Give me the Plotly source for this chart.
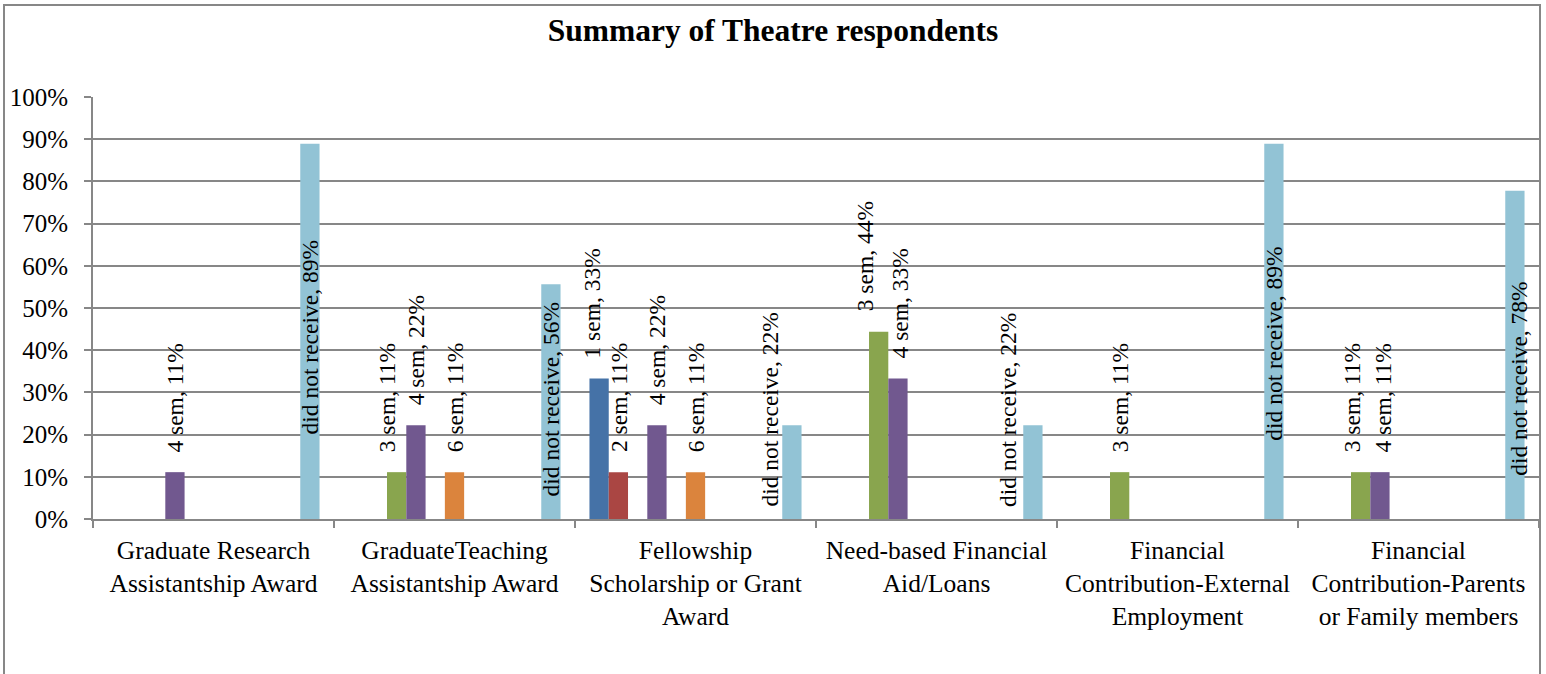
import plotly.graph_objects as go

# ---------------- data ----------------
categories = [
    "Graduate Research<br>Assistantship Award",
    "GraduateTeaching<br>Assistantship Award",
    "Fellowship<br>Scholarship or Grant<br>Award",
    "Need-based Financial<br>Aid/Loans",
    "Financial<br>Contribution-External<br>Employment",
    "Financial<br>Contribution-Parents<br>or Family members",
]
series_names = ["1 sem", "2 sem", "3 sem", "4 sem", "5 sem", "6 sem",
                "7 sem", "8 sem", "9 sem", "10 sem", "did not receive"]

sem1 = [None, None, 33.3, None, None, None]
sem2 = [None, None, 11.1, None, None, None]
sem3 = [None, 11.1, None, 44.4, 11.1, 11.1]
sem4 = [11.1, 22.2, 22.2, 33.3, None, 11.1]
sem5 = [None] * 6
sem6 = [None, 11.1, 11.1, None, None, None]
sem7 = [None] * 6
sem8 = [None] * 6
sem9 = [None] * 6
sem10 = [None] * 6
not_received = [88.9, 55.6, 22.2, 22.2, 88.9, 77.8]

series_values = [sem1, sem2, sem3, sem4, sem5, sem6, sem7, sem8, sem9, sem10, not_received]
y_ticks = [0, 10, 20, 30, 40, 50, 60, 70, 80, 90, 100]

# ---------------- styles ----------------
colors = ["#4572A7", "#AA4643", "#89A54E", "#71588F", "#4198AF", "#DB843D",
          "#93A9CF", "#D19392", "#B9CD96", "#A99BBD", "#92C3D5"]
FONT = "Liberation Serif, Times New Roman, serif"
GRID = "#878787"
W, H = 1546, 674
ML, MR, MT, MB = 93, 7, 97, 155
BARGAP = 0.12

# label placement tweaks (pixel x nudge, optional centre y in axis units)
label_dx = {(1, 2): -10, (2, 0): -7, (3, 2): -14, (3, 3): 3, (5, 2): -9, (5, 3): 3,
            (2, 10): -22, (3, 10): -25, (5, 10): 4}
label_center_y = {(0, 10): 43.0, (1, 10): 28.3, (2, 10): 25.9, (3, 10): 25.8,
                  (4, 10): 41.5, (5, 10): 33.2}

fig = go.Figure()
for name, vals, col in zip(series_names, series_values, colors):
    fig.add_trace(go.Bar(
        name=name, x=categories, y=vals, marker=dict(color=col, line=dict(width=0)),
        hoverinfo="skip",
    ))

n_series = len(series_names)
slot = (1 - BARGAP) / n_series
annotations = []
for si, (name, vals) in enumerate(zip(series_names, series_values)):
    for ci, v in enumerate(vals):
        if v is None:
            continue
        xpos = ci + (si - (n_series - 1) / 2) * slot
        txt = f"{name}, {round(v)}%"
        key = (ci, si)
        if key in label_center_y:
            annotations.append(dict(
                x=xpos, y=label_center_y[key], xref="x", yref="y", text=txt,
                textangle=-90, showarrow=False, xanchor="center", yanchor="middle",
                xshift=label_dx.get(key, 0),
                font=dict(family=FONT, size=23.5, color="black")))
        else:
            annotations.append(dict(
                x=xpos, y=v, xref="x", yref="y", text=txt,
                textangle=-90, showarrow=False, xanchor="center", yanchor="bottom",
                xshift=label_dx.get(key, 0), yshift=18,
                font=dict(family=FONT, size=23.5, color="black")))

fig.update_layout(annotations=annotations)

plot_w = W - ML - MR
plot_h = H - MT - MB


def px_x(p):
    return (p - ML) / plot_w


def px_y(p):
    return (H - MB - p) / plot_h


fig.add_shape(type="rect", xref="paper", yref="paper",
              x0=px_x(4), x1=px_x(1540), y0=px_y(690), y1=px_y(5),
              line=dict(color=GRID, width=2), fillcolor="rgba(0,0,0,0)", layer="below")

fig.update_layout(
    width=W, height=H,
    margin=dict(l=ML, r=MR, t=MT, b=MB),
    paper_bgcolor="white", plot_bgcolor="white",
    barmode="group", bargap=BARGAP, bargroupgap=0,
    showlegend=False,
    title=dict(text="<b>Summary of Theatre respondents</b>", x=0.5, xref="container",
               xanchor="center", y=1 - 30 / H, yref="container", yanchor="middle",
               font=dict(family=FONT, size=31.5, color="black")),
    font=dict(family=FONT, color="black"),
)
fig.update_xaxes(
    type="category", showgrid=False, showline=True, linecolor=GRID, linewidth=2,
    ticks="outside", tickson="boundaries", ticklen=7, tickwidth=2, tickcolor=GRID,
    tickfont=dict(family=FONT, size=25.5, color="black"), ticklabelstandoff=7,
    tickangle=0,
)
fig.update_yaxes(
    range=[0, 100], tickvals=y_ticks, ticktext=[f"{t}%" for t in y_ticks],
    showgrid=True, gridcolor=GRID, gridwidth=2, zeroline=False,
    showline=True, linecolor=GRID, linewidth=2,
    ticks="outside", ticklen=7, tickwidth=2, tickcolor=GRID,
    tickfont=dict(family=FONT, size=25, color="black"), ticklabelstandoff=11,
)

fig.write_html(
    "out.html",
    config={"displayModeBar": False, "staticPlot": True},
    post_script="document.body.style.margin='0px';document.body.style.overflow='hidden';",
)
